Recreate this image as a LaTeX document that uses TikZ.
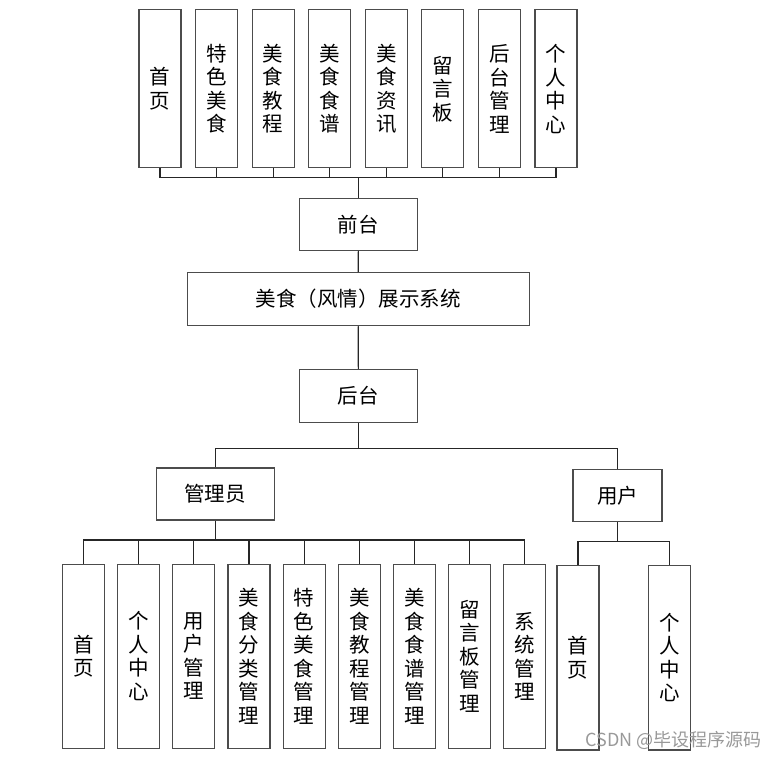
\documentclass[tikz,border=0pt]{standalone}
\usepackage{fontspec}
\newfontfamily\cjk{Noto Sans CJK SC}
\usetikzlibrary{calc}
\tikzset{
  box/.style={draw=black!70, line width=1.1pt, rectangle, inner sep=0pt, align=center,
    font=\cjk\fontsize{20.5}{23.5}\selectfont},
  vbox/.style={box, minimum width=42pt},
  hbox/.style={box, minimum height=52pt},
  conn/.style={draw=black!85, line width=1.1pt},
}
\begin{document}
\begin{tikzpicture}[x=1pt,y=-1pt]
\useasboundingbox (0,0) rectangle (776,759);
% top level
\node[vbox, minimum height=157.7pt] (t1) at (160.0,88.8) {首\\页};
\node[vbox, minimum height=157.7pt] (t2) at (216.6,88.8) {特\\色\\美\\食};
\node[vbox, minimum height=157.7pt] (t3) at (273.1,88.8) {美\\食\\教\\程};
\node[vbox, minimum height=157.7pt] (t4) at (329.7,88.8) {美\\食\\食\\谱};
\node[vbox, minimum height=157.7pt] (t5) at (386.3,88.8) {美\\食\\资\\讯};
\node[vbox, minimum height=157.7pt] (t6) at (442.9,88.8) {留\\言\\板};
\node[vbox, minimum height=157.7pt] (t7) at (499.4,88.8) {后\\台\\管\\理};
\node[vbox, minimum height=157.7pt] (t8) at (556.0,88.8) {个\\人\\中\\心};
\node[hbox, minimum width=118pt] (qt) at (358.3,224.2) {前台};
\node[hbox, minimum width=341.7pt, minimum height=53pt] (sys) at (358.2,299.2) {美食（风情）展示系统};
\node[hbox, minimum width=118pt, minimum height=53pt] (ht) at (358.3,395.8) {后台};
\node[hbox, minimum width=118pt] (adm) at (215.2,494.0) {管理员};
\node[hbox, minimum width=89pt] (usr) at (617.5,495.5) {用户};
% admin children
\node[vbox, minimum height=184pt] (a1) at (83.5,656.2) {首\\页};
\node[vbox, minimum height=184pt] (a2) at (138.7,656.2) {个\\人\\中\\心};
\node[vbox, minimum height=184pt] (a3) at (193.8,656.2) {用\\户\\管\\理};
\node[vbox, minimum height=184pt] (a4) at (249.0,656.2) {美\\食\\分\\类\\管\\理};
\node[vbox, minimum height=184pt] (a5) at (304.1,656.2) {特\\色\\美\\食\\管\\理};
\node[vbox, minimum height=184pt] (a6) at (359.3,656.2) {美\\食\\教\\程\\管\\理};
\node[vbox, minimum height=184pt] (a7) at (414.5,656.2) {美\\食\\食\\谱\\管\\理};
\node[vbox, minimum height=184pt] (a8) at (469.6,656.2) {留\\言\\板\\管\\理};
\node[vbox, minimum height=184pt] (a9) at (524.8,656.2) {系\\统\\管\\理};
% user children
\node[vbox, minimum height=184.7pt] (u1) at (578.0,657.6) {首\\页};
\node[vbox, minimum height=184.7pt] (u2) at (669.8,657.6) {个\\人\\中\\心};
% bus coordinates
\coordinate (tb) at (358.3,177.7);
\coordinate (hb) at (358.3,448.7);
\coordinate (ab) at (215.2,540.0);
\coordinate (ub) at (617.5,541.7);
% connectors
\foreach \i in {1,...,8} { \draw[conn] (t\i.south) |- (tb); }
\draw[conn] (tb) -- (qt.north);
\draw[conn] (qt.south) -- (sys.north);
\draw[conn] (sys.south) -- (ht.north);
\draw[conn] (ht.south) -- (hb);
\draw[conn] (hb) -| (adm.north);
\draw[conn] (hb) -| (usr.north);
\draw[conn] (adm.south) -- (ab);
\foreach \i in {1,...,9} { \draw[conn] (a\i.north) |- (ab); }
\draw[conn] (usr.south) -- (ub);
\draw[conn] (u1.north) |- (ub);
\draw[conn] (u2.north) |- (ub);
% watermark
\node[font=\cjk\fontsize{18}{20}\selectfont, text=black!40, anchor=east, inner sep=0pt] (wm) at (762,740) {CSDN @毕设程序源码};
\end{tikzpicture}
\end{document}
